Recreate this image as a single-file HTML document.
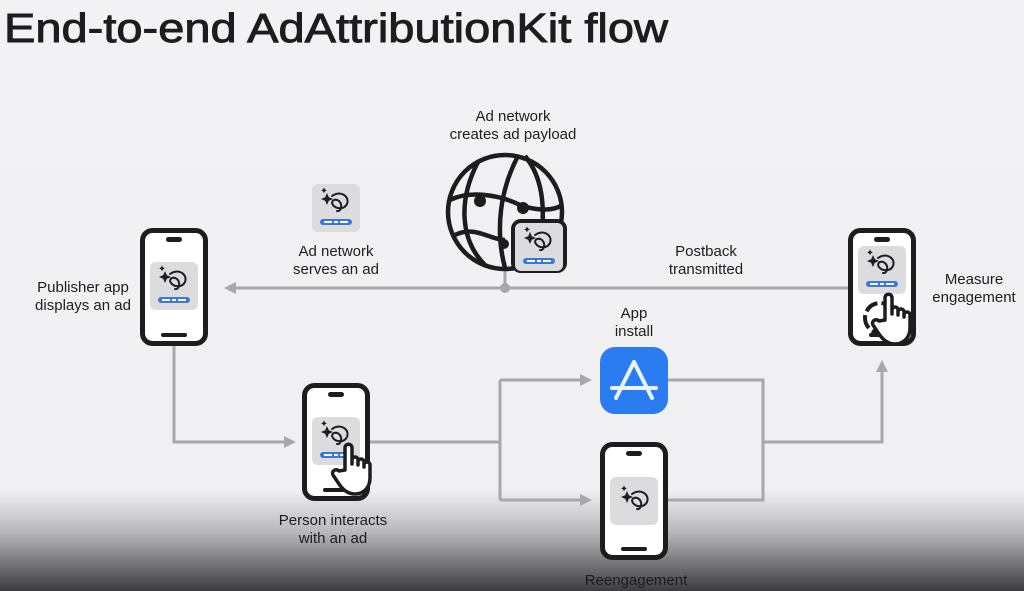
<!DOCTYPE html>
<html><head><meta charset="utf-8"><style>
html,body{margin:0;padding:0;width:1024px;height:591px;overflow:hidden;background:#f2f2f4}
svg{display:block}
text{font-family:"Liberation Sans",sans-serif;fill:#1d1d1f}
</style></head><body>
<svg width="1024" height="591" viewBox="0 0 1024 591" xmlns="http://www.w3.org/2000/svg">
<defs>
<linearGradient id="bg" x1="0" y1="0" x2="0" y2="1">
<stop offset="0" stop-color="#f2f2f4"/><stop offset="0.83" stop-color="#f0f0f2"/><stop offset="0.9" stop-color="#b8b8ba"/><stop offset="1" stop-color="#3c3c3e"/>
</linearGradient>
<g id="phone"><rect x="2.5" y="2.5" width="63" height="113" rx="10" fill="#fff" stroke="#1d1d1f" stroke-width="5"/><rect x="26" y="9" width="16" height="5" rx="2.5" fill="#1d1d1f"/><rect x="21" y="105" width="26" height="4" rx="2" fill="#1d1d1f"/></g>
<g id="swirl" fill="none" stroke="#1d1d1f" stroke-width="2" stroke-linecap="round"><path d="M-4 -6 C4 -12 14 -6 11 2 C8 8 0 7 -3 3 C-6 -1 -1 -4 3 -1 C7 3 5 10 1 9"/><path d="M-9 -8 l1.5 3.5 3.5 1.5 -3.5 1.5 -1.5 3.5 -1.5 -3.5 -3.5 -1.5 3.5 -1.5z" fill="#1d1d1f" stroke-width="0.8"/><path d="M-12 -14 l0.8 1.6 1.6 0.8 -1.6 0.8 -0.8 1.6 -0.8 -1.6 -1.6 -0.8 1.6 -0.8z" fill="#1d1d1f" stroke-width="0.5"/></g>
<g id="ad"><rect x="0" y="0" width="48" height="48" rx="6" fill="#dcdcde"/><use href="#swirl" x="24" y="18"/><rect x="8" y="35" width="32" height="6" rx="3" fill="#3a78d8"/><rect x="12" y="37" width="8" height="2" fill="#fff"/><rect x="22" y="37" width="4" height="2" fill="#fff"/><rect x="28" y="37" width="8" height="2" fill="#fff"/></g>
<g id="hand" fill="#fff" stroke="#1d1d1f" stroke-width="3.5" stroke-linejoin="round" stroke-linecap="round"><path d="M0 0 L0 -22 C0 -27 7 -27 7 -22 L7 -6 L7 -10 C7 -14 13 -14 13 -10 L13 -5 L13 -8 C13 -12 19 -12 19 -8 L19 -3 L19 -5 C19 -9 25 -9 25 -5 L25 8 C25 18 18 24 10 24 C3 24 -2 20 -6 14 L-12 5 C-14 1 -9 -2 -6 1 Z"/></g>
<marker id="ar" markerWidth="4" markerHeight="4" refX="2" refY="2" orient="auto" markerUnits="strokeWidth"><path d="M0 0 L4 2 L0 4 z" fill="#a8a8aa"/></marker>
</defs>
<rect width="1024" height="591" fill="url(#bg)"/>
<text x="4" y="42" font-size="41" textLength="664" lengthAdjust="spacingAndGlyphs" stroke="#1d1d1f" stroke-width="0.9">End-to-end AdAttributionKit flow</text>

<g fill="none" stroke="#a8a8aa" stroke-width="3">
<path d="M848 288 L230 288" marker-end="url(#ar)"/>
<path d="M505 262 L505 288"/>
<path d="M174 345 L174 442 L290 442" marker-end="url(#ar)"/>
<path d="M369 442 L500 442"/>
<path d="M500 380 L500 500"/>
<path d="M500 380 L586 380" marker-end="url(#ar)"/>
<path d="M500 500 L586 500" marker-end="url(#ar)"/>
<path d="M668 380 L763 380 L763 500 L667 500"/>
<path d="M763 442 L882 442 L882 366" marker-end="url(#ar)"/>
</g>
<circle cx="505" cy="288" r="5" fill="#a8a8aa"/>

<g fill="none" stroke="#1d1d1f" stroke-width="4.5">
<circle cx="505" cy="212" r="57"/>
<path d="M478 162 C458 200 460 240 485 265"/>
<path d="M518 156 C500 190 495 230 505 268"/>
<path d="M525 156 C545 180 545 215 540 245"/>
<path d="M450 200 C470 190 500 195 520 205 C540 212 555 210 562 205"/>
<path d="M455 235 C475 225 490 240 505 240"/>
</g>
<circle cx="480" cy="201" r="6" fill="#1d1d1f"/><circle cx="523" cy="208" r="6" fill="#1d1d1f"/><circle cx="504" cy="244" r="5" fill="#1d1d1f"/>
<rect x="513" y="221" width="52" height="50" rx="8" fill="#fff" stroke="#1d1d1f" stroke-width="4"/>
<use href="#ad" x="515" y="223"/>

<use href="#ad" x="312" y="184"/>

<use href="#phone" x="140" y="228"/><use href="#ad" x="150" y="262"/>
<use href="#phone" x="302" y="383"/><use href="#ad" x="312" y="417"/><use href="#hand" x="345" y="470"/>
<use href="#phone" x="600" y="442"/><rect x="610" y="477" width="48" height="48" rx="6" fill="#dcdcde"/><use href="#swirl" x="636" y="500"/>
<use href="#phone" x="848" y="228"/><use href="#ad" x="858" y="246"/>
<circle cx="880" cy="318" r="15" fill="#fff" stroke="#1d1d1f" stroke-width="4" stroke-dasharray="14 4"/><use href="#hand" x="885" y="320"/>

<rect x="600" y="347" width="68" height="67" rx="15" fill="#2a7cf0"/>
<g stroke="#fff" stroke-width="4" stroke-linecap="round" opacity="0.9"><path d="M634 362 L616 398"/><path d="M634 362 L652 398"/><path d="M612 388 L656 388"/></g>

<g font-size="15" text-anchor="middle">
<text x="513" y="121">Ad network</text><text x="513" y="139">creates ad payload</text>
<text x="336" y="256">Ad network</text><text x="336" y="274">serves an ad</text>
<text x="83" y="292">Publisher app</text><text x="83" y="310">displays an ad</text>
<text x="706" y="256">Postback</text><text x="706" y="274">transmitted</text>
<text x="974" y="284">Measure</text><text x="974" y="302">engagement</text>
<text x="634" y="318">App</text><text x="634" y="336">install</text>
<text x="333" y="525">Person interacts</text><text x="333" y="543">with an ad</text>
<text x="636" y="585">Reengagement</text>
</g>
</svg>
</body></html>
